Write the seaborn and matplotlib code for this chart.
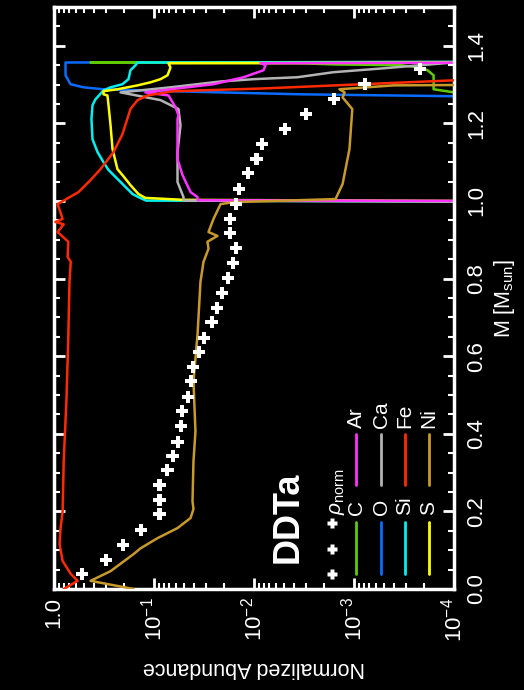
import numpy as np
import pandas as pd
import seaborn as sns
import matplotlib
matplotlib.use("Agg")
import matplotlib.pyplot as plt
from matplotlib.ticker import FixedLocator, FixedFormatter, LogLocator, MultipleLocator, NullFormatter

# ---------------- data (mass coordinate M [M_sun], normalized abundance) ----------------
rho_m = [0.039, 0.075, 0.113, 0.152, 0.193, 0.229, 0.267, 0.306, 0.344, 0.380, 0.419, 0.458,
         0.496, 0.535, 0.573, 0.612, 0.648, 0.689, 0.725, 0.764, 0.802, 0.841, 0.879, 0.918,
         0.954, 0.992, 1.031, 1.072, 1.108, 1.147, 1.185, 1.224, 1.262, 1.301, 1.339]
rho_v = [0.519, 0.305, 0.202, 0.136, 0.0881, 0.0881, 0.0881, 0.0733, 0.0653, 0.0582, 0.0543, 0.0519,
         0.0462, 0.0431, 0.0403, 0.0351, 0.0313, 0.0266, 0.0237, 0.0211, 0.0184, 0.0164, 0.0150, 0.0172,
         0.0172, 0.0153, 0.0140, 0.0116, 9.44e-3, 8.41e-3, 4.95e-3, 3.05e-3, 1.60e-3, 7.85e-4, 2.21e-4]

c_m = [1.276, 1.280, 1.288, 1.324, 1.337, 1.344, 1.350, 1.352, 1.355, 1.357, 1.359]
c_v = [1e-6, 1.0e-4, 1.6e-4, 1.6e-4, 1.84e-4, 2.16e-4, 3.43e-4, 1.6e-3, 3.43e-3, 0.431, 1e-6]

o_m = [1.266, 1.270, 1.275, 1.283, 1.288, 1.293, 1.301, 1.324, 1.357, 1.359]
o_v = [1e-6, 1.0e-4, 3.43e-3, 0.0684, 0.320, 0.507, 0.684, 0.767, 0.767, 1e-6]

si_m = [0.998, 1.001, 1.010, 1.018, 1.049, 1.080, 1.100, 1.126, 1.159, 1.211, 1.247, 1.262,
        1.285, 1.293, 1.301, 1.314, 1.337, 1.350, 1.357, 1.359]
si_v = [1e-6, 0.120, 0.143, 0.164, 0.216, 0.285, 0.320, 0.367, 0.412, 0.422, 0.412, 0.385,
        0.320, 0.272, 0.207, 0.180, 0.172, 0.153, 0.146, 1e-6]

s_m = [0.998, 1.003, 1.008, 1.018, 1.041, 1.067, 1.082, 1.134, 1.195, 1.247, 1.272, 1.275,
       1.283, 1.288, 1.298, 1.306, 1.314, 1.324, 1.344, 1.355, 1.358]
s_v = [1e-6, 0.0507, 0.122, 0.143, 0.172, 0.207, 0.232, 0.260, 0.272, 0.285, 0.292, 0.320,
       0.320, 0.232, 0.146, 0.108, 0.0861, 0.0733, 0.0684, 0.0716, 1e-6]

ar_m = [0.999, 1.002, 1.010, 1.023, 1.067, 1.108, 1.211, 1.221, 1.242, 1.272, 1.280, 1.288,
        1.301, 1.319, 1.337, 1.350, 1.355, 1.358]
ar_v = [1e-6, 0.0367, 0.0367, 0.0431, 0.0519, 0.0582, 0.0582, 0.0569, 0.0610, 0.0716, 0.122, 0.0684,
        0.0254, 0.0127, 8.04e-3, 7.67e-3, 8.61e-3, 1e-6]

ca_m = [0.996, 1.001, 1.010, 1.049, 1.126, 1.195, 1.237, 1.260, 1.280, 1.293, 1.308, 1.314,
        1.319, 1.332, 1.342, 1.350, 1.357, 1.360]
ca_v = [1e-6, 0.0507, 0.0507, 0.0582, 0.0582, 0.0543, 0.0569, 0.0861, 0.216, 0.0684, 0.0216, 0.0101,
        3.67e-3, 1.60e-3, 5.07e-4, 2.16e-4, 1.01e-4, 1e-6]

fe_m = [0.0, 0.021, 0.039, 0.072, 0.116, 0.157, 0.200, 0.329, 0.491, 0.645, 0.792, 0.843,
        0.856, 0.895, 0.920, 0.940, 0.946, 0.954, 0.992, 1.023, 1.054, 1.082, 1.126, 1.172,
        1.237, 1.260, 1.272, 1.283, 1.290, 1.311, 1.316]
fe_v = [0.80, 0.58, 0.68, 0.82, 0.88, 0.86, 0.82, 0.80, 0.75, 0.72, 0.70, 0.68,
        0.73, 0.72, 0.92, 0.80, 0.97, 0.82, 0.92, 0.569, 0.431, 0.343, 0.254, 0.207,
        0.172, 0.146, 0.116, 0.0638, 8.22e-3, 1.0e-4, 1e-6]

ni_m = [0.0, 0.021, 0.046, 0.090, 0.105, 0.131, 0.157, 0.183, 0.206, 0.226, 0.329, 0.406,
        0.535, 0.656, 0.792, 0.843, 0.877, 0.895, 0.910, 0.920, 0.954, 0.992, 0.997, 1.005,
        1.044, 1.134, 1.237, 1.267, 1.280, 1.288, 1.298, 1.302]
ni_v = [0.160, 0.431, 0.272, 0.160, 0.136, 0.0923, 0.0582, 0.0431, 0.0403, 0.0412, 0.0403, 0.0385,
        0.0403, 0.0367, 0.0343, 0.0320, 0.0285, 0.0292, 0.0232, 0.0285, 0.0254, 0.0216, 0.0160, 1.53e-3,
        1.30e-3, 1.11e-3, 1.04e-3, 1.30e-3, 1.24e-3, 1.40e-3, 4.0e-4, 1e-6]

elements = ["C", "O", "Si", "S", "Ar", "Ca", "Fe", "Ni"]
colors = {"C": "#5ecc00", "O": "#0a6cff", "Si": "#00f0f0", "S": "#ffff00",
          "Ar": "#ff33ff", "Ca": "#b4b4b4", "Fe": "#ff2a00", "Ni": "#c89a2a"}
series = {"C": (c_m, c_v), "O": (o_m, o_v), "Si": (si_m, si_v), "S": (s_m, s_v),
          "Ar": (ar_m, ar_v), "Ca": (ca_m, ca_v), "Fe": (fe_m, fe_v), "Ni": (ni_m, ni_v)}
zorders = {"O": 2.0, "C": 2.1, "Si": 2.2, "S": 2.3, "Ca": 2.4, "Ar": 2.5, "Fe": 2.6, "Ni": 2.7}

mass_ticks = [0.0, 0.2, 0.4, 0.6, 0.8, 1.0, 1.2, 1.4]
abund_ticks = [1.0, 1e-1, 1e-2, 1e-3, 1e-4]
abund_labels = ["1.0", "10$^{-1}$", "10$^{-2}$", "10$^{-3}$", "10$^{-4}$"]

# ---------------- style ----------------
sns.set_style("dark", {"axes.facecolor": "black", "figure.facecolor": "black"})
plt.rcParams["font.family"] = ["Liberation Sans", "DejaVu Sans"]
plt.rcParams["mathtext.fontset"] = "custom"
plt.rcParams["mathtext.rm"] = "Liberation Sans"
plt.rcParams["mathtext.it"] = "Liberation Sans:italic"
plt.rcParams["mathtext.bf"] = "Liberation Sans:bold"

W, H = 524, 690
fig = plt.figure(figsize=(W / 100, H / 100), dpi=100, facecolor="black")
ax = fig.add_axes([54 / W, 1 - 589 / H, 400 / W, 582 / H])
ax.set_facecolor("black")
ax.set_xscale("log")

for el in elements:
    m, v = series[el]
    df = pd.DataFrame({"M": m, "X": v})
    sns.lineplot(data=df, x="X", y="M", sort=False, estimator=None, color=colors[el],
                 lw=1.8, ax=ax, zorder=zorders[el])

sns.scatterplot(x=rho_v, y=rho_m, marker="P", color="white", s=75, edgecolor="none",
                ax=ax, zorder=5)

ax.set_xlim(1.0, 1e-4)
ax.set_ylim(0.0, 1.5)
ax.grid(False)

# ticks
ax.xaxis.set_major_locator(FixedLocator(abund_ticks))
ax.xaxis.set_major_formatter(FixedFormatter(abund_labels))
ax.xaxis.set_minor_locator(LogLocator(base=10, subs=np.arange(2, 10), numticks=20))
ax.xaxis.set_minor_formatter(NullFormatter())
ax.yaxis.set_major_locator(FixedLocator(mass_ticks))
ax.yaxis.set_major_formatter(FixedFormatter(["%.1f" % t for t in mass_ticks]))
ax.yaxis.set_minor_locator(MultipleLocator(0.05))

ax.tick_params(which="both", direction="in", colors="white", top=True, bottom=True,
               left=True, right=True, labelleft=False, labelright=True,
               labelbottom=True, labeltop=False)
ax.tick_params(which="major", length=8, width=2)
ax.tick_params(which="minor", length=4, width=1.5)
ax.tick_params(axis="x", which="major", labelsize=16, labelrotation=90, pad=6)
ax.tick_params(axis="y", which="major", labelsize=16, labelrotation=90, pad=9)
for lab in ax.get_yticklabels():
    lab.set_va("center")
    lab.set_ha("left")
for lab in ax.get_xticklabels():
    lab.set_ha("center")
    lab.set_va("top")

for sp in ax.spines.values():
    sp.set_color("white")
    sp.set_linewidth(2.5)
    sp.set_visible(True)

ax.set_xlabel("Normalized Abundance", rotation=180, fontsize=15.5, color="white", labelpad=11)
ax.yaxis.set_label_position("right")
ax.set_ylabel(r"M [M$_{\mathrm{sun}}$]", rotation=90, fontsize=15.5, color="white", labelpad=3)

# ---------------- legend (drawn by hand, rotated) ----------------
def axx(px):
    return (px - 54) / 400.0

def axy(py):
    return (589 - py) / 582.0

tr = ax.transAxes
# rho_norm entry
for py in [574, 549, 523]:
    ax.plot([axx(332)], [axy(py)], marker="P", ms=6.5, color="white", mec="none",
            transform=tr, clip_on=False, zorder=6)
ax.text(axx(337), axy(515), r"$\rho_{\rm norm}$", rotation=90, ha="center", va="bottom",
        fontsize=15, color="white", transform=tr)

col1 = ["C", "O", "Si", "S"]
col2 = ["Ar", "Ca", "Fe", "Ni"]
xs = [356, 381, 405, 429]
for el, px in zip(col1, xs):
    ax.plot([axx(px), axx(px)], [axy(574), axy(522)], color=colors[el], lw=2, transform=tr, zorder=6)
    ax.text(axx(px), axy(515), el, rotation=90, ha="center", va="bottom", fontsize=15,
            color="white", transform=tr)
for el, px in zip(col2, xs):
    ax.plot([axx(px), axx(px)], [axy(485), axy(434)], color=colors[el], lw=2, transform=tr, zorder=6)
    ax.text(axx(px), axy(428), el, rotation=90, ha="center", va="bottom", fontsize=15,
            color="white", transform=tr)

ax.text(axx(288), axy(517), "DDTa", rotation=90, ha="center", va="center", fontsize=26,
        fontweight="bold", color="white", transform=tr)

fig.savefig("out.png", dpi=100, facecolor="black")
